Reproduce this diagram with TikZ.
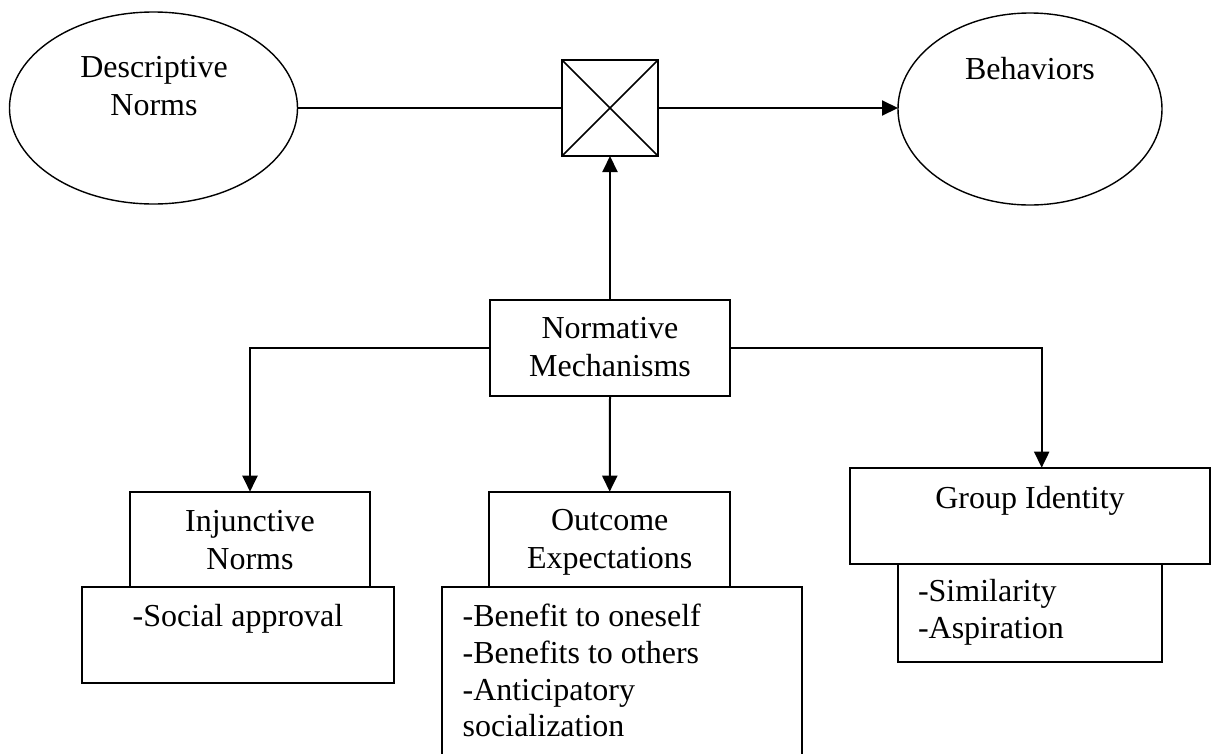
\documentclass[tikz,border=0pt]{standalone}
\usepackage{fontspec}
\setmainfont{Liberation Serif}
\usetikzlibrary{shapes.geometric,arrows.meta}
\begin{document}
\begin{tikzpicture}[x=1pt,y=-1pt,
  every node/.style={inner sep=0pt, outer sep=0pt},
  oval/.style={ellipse, draw, line width=1.4pt},
  box/.style={rectangle, draw, line width=2pt},
  lbl/.style={font=\fontsize{32}{38}\selectfont, align=center, anchor=base},
  lst/.style={font=\fontsize{32}{36.7}\selectfont, align=left, anchor=base west},
  conn/.style={line width=2pt},
  arr/.style={conn, -{Triangle[length=16pt,width=15pt]}}
]
\clip (0,0) rectangle (1212,753);
\fill[white] (0,0) rectangle (1212,753);

% top row: norm -> moderator box -> outcome
% (multi-line labels are placed by the baseline of their last line)
\node[oval, minimum width=288pt, minimum height=192pt] (dn) at (153.5,108) {};
\node[lbl] (dntxt) at (154,115) {Descriptive\\Norms};

\node[box, minimum width=96pt, minimum height=96pt] (xb) at (610,108) {};
\draw[line width=1.5pt] (xb.north west) -- (xb.south east)
                        (xb.north east) -- (xb.south west);

\node[oval, minimum width=264pt, minimum height=192pt] (beh) at (1030,109) {};
\node[lbl] (behtxt) at (1030,79.3) {Behaviors};

% mechanisms
\node[box, minimum width=240pt, minimum height=96pt] (nm) at (610,348) {};
\node[lbl] (nmtxt) at (610,376.7) {Normative\\Mechanisms};

% injunctive norms
\node[box, minimum width=240pt, minimum height=95pt] (inj) at (250,539.2) {};
\node[lbl] (injtxt) at (250,569) {Injunctive\\Norms};
\node[box, minimum width=312.3pt, minimum height=96.6pt] (sa) at (237.85,635) {};
\node[lbl] (satxt) at (238,626.7) {-Social approval};

% outcome expectations
\node[box, minimum width=240.7pt, minimum height=95pt] (oe) at (609.7,539.2) {};
\node[lbl] (oetxt) at (609.7,568.5) {Outcome\\Expectations};
\node[box, minimum width=360pt, minimum height=193.3pt] (ol) at (621.7,683.35) {};
\node[lst] (oltxt) at (462.7,736.7) {-Benefit to oneself\\-Benefits to others\\-Anticipatory\\socialization};

% group identity
\node[box, minimum width=360pt, minimum height=96.3pt] (gi) at (1030,515.85) {};
\node[lbl] (gitxt) at (1030,508) {Group Identity};
\node[box, minimum width=264.6pt, minimum height=98pt] (gl) at (1030,613) {};
\node[lst] (gltxt) at (918,638.4) {-Similarity\\-Aspiration};

% connectors
\coordinate (giin) at (1041.7,467.7);
\draw[conn] (dn.east) -- (xb.west);
\draw[arr] (xb.east) -- (xb.east -| beh.west);
\draw[arr] (nm.north) -- (xb.south);
\draw[arr] (nm.west) -| (inj.north);
\draw[arr] (nm.south) -- (oe.north);
\draw[arr] (nm.east) -| (giin);
\end{tikzpicture}
\end{document}
